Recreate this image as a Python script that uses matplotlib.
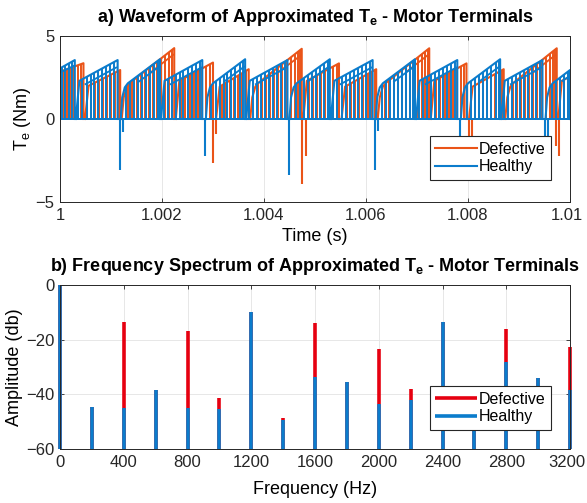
import numpy as np
import matplotlib
matplotlib.use('Agg')
import matplotlib.pyplot as plt
from matplotlib.path import Path
from matplotlib.patches import PathPatch
from matplotlib.transforms import ScaledTranslation

plt.rcParams['font.family'] = ['Liberation Sans', 'DejaVu Sans']
plt.rcParams['mathtext.default'] = 'regular'

nan = np.nan

# ---------------- (a) waveform data: time offsets in ms after t = 1 s ----------------
# upper envelope of each PWM segment (segments separated by nan)
healthy_env_ms = [0.00, 0.29, nan,
                  0.31, 0.38, 1.13, nan,
                  1.19, 1.22, 1.27, 1.33, 1.96, nan,
                  1.98, 2.05, 2.79, nan,
                  2.86, 2.89, 2.94, 3.00, 3.63, nan,
                  3.65, 3.72, 4.46, nan,
                  4.50, 4.53, 4.58, 4.64, 5.29, nan,
                  5.31, 5.38, 6.13, nan,
                  6.19, 6.22, 6.27, 6.33, 6.96, nan,
                  6.98, 7.05, 7.79, nan,
                  7.86, 7.89, 7.94, 8.00, 8.63, nan,
                  8.65, 8.72, 9.46, nan,
                  9.52, 9.55, 9.60, 9.66, 10.00]
healthy_env_val = [3.05, 3.55, nan,
                   0.0, 2.3, 3.55, nan,
                   0.0, 1.3, 1.9, 2.15, 3.6, nan,
                   0.0, 2.3, 3.55, nan,
                   0.0, 1.3, 1.9, 2.15, 3.6, nan,
                   0.0, 2.3, 3.55, nan,
                   0.0, 1.3, 1.9, 2.15, 3.6, nan,
                   0.0, 2.3, 3.55, nan,
                   0.0, 1.3, 1.9, 2.15, 3.6, nan,
                   0.0, 2.3, 3.55, nan,
                   0.0, 1.3, 1.9, 2.15, 3.6, nan,
                   0.0, 2.3, 3.55, nan,
                   0.0, 1.3, 1.9, 2.15, 2.95]
# second (lower) active-vector level visible in the later part of each segment
healthy_low_ms = [0.00, 0.27, nan, 0.50, 1.10, nan, 1.55, 1.94, nan, 2.17, 2.77, nan,
                  3.22, 3.61, nan, 3.84, 4.44, nan, 4.86, 5.27, nan, 5.50, 6.11, nan,
                  6.55, 6.94, nan, 7.17, 7.77, nan, 8.22, 8.61, nan, 8.84, 9.44, nan,
                  9.85, 10.00]
healthy_low_val = [2.8, 3.2, nan, 2.1, 3.1, nan, 2.26, 3.15, nan, 2.1, 3.1, nan,
                   2.26, 3.15, nan, 2.1, 3.1, nan, 2.26, 3.15, nan, 2.1, 3.1, nan,
                   2.26, 3.15, nan, 2.1, 3.1, nan, 2.26, 3.15, nan, 2.1, 3.1, nan,
                   2.3, 2.6]

defective_env_ms = [0.00, 0.46, nan,
                    0.49, 0.56, 1.18, nan,
                    1.21, 1.25, 1.31, 1.38, 2.24, nan,
                    2.27, 2.34, 3.00, nan,
                    3.06, 3.13, 3.70, nan,
                    3.73, 3.77, 3.83, 3.90, 4.74, nan,
                    4.77, 4.84, 5.47, nan,
                    5.52, 5.59, 6.20, nan,
                    6.23, 6.27, 6.33, 6.40, 7.24, nan,
                    7.27, 7.34, 7.97, nan,
                    8.02, 8.09, 8.70, nan,
                    8.73, 8.77, 8.83, 8.90, 9.74, nan,
                    9.77, 9.84, 10.00]
defective_env_val = [2.85, 3.36, nan,
                     0.0, 2.0, 2.95, nan,
                     0.0, 1.3, 1.95, 2.2, 4.27, nan,
                     0.0, 2.3, 3.4, nan,
                     0.0, 1.95, 3.0, nan,
                     0.0, 1.3, 1.95, 2.2, 4.23, nan,
                     0.0, 2.3, 3.35, nan,
                     0.0, 1.95, 3.0, nan,
                     0.0, 1.3, 1.95, 2.2, 4.26, nan,
                     0.0, 2.3, 3.35, nan,
                     0.0, 1.95, 3.0, nan,
                     0.0, 1.3, 1.95, 2.2, 4.26, nan,
                     0.0, 2.3, 2.55]
defective_low_ms = [1.80, 2.22, nan, 4.30, 4.72, nan, 6.80, 7.22, nan, 9.30, 9.72]
defective_low_val = [2.86, 3.87, nan, 2.86, 3.83, nan, 2.86, 3.87, nan, 2.86, 3.87]

# switching instants (ms) of the PWM pulses
healthy_pulse_ms = [0.03, 0.10, 0.17, 0.24, 0.36, 0.44, 0.52, 0.60, 0.67, 0.75, 0.83, 0.90, 0.98,
                    1.06, 1.30, 1.38, 1.46, 1.53, 1.61, 1.69, 1.77, 1.84, 1.92, 2.03, 2.11, 2.19,
                    2.27, 2.35, 2.42, 2.50, 2.58, 2.66, 2.74, 2.97, 3.05, 3.13, 3.21, 3.28, 3.36,
                    3.44, 3.52, 3.59, 3.70, 3.78, 3.86, 3.94, 4.02, 4.09, 4.17, 4.25, 4.33, 4.41,
                    4.62, 4.70, 4.78, 4.86, 4.94, 5.02, 5.10, 5.18, 5.25, 5.36, 5.44, 5.52, 5.60,
                    5.68, 5.76, 5.84, 5.92, 6.00, 6.08, 6.31, 6.39, 6.47, 6.55, 6.63, 6.71, 6.79,
                    6.87, 6.93, 7.03, 7.11, 7.19, 7.27, 7.35, 7.43, 7.51, 7.59, 7.67, 7.75, 7.98,
                    8.06, 8.14, 8.22, 8.30, 8.38, 8.46, 8.54, 8.61, 8.70, 8.78, 8.86, 8.94, 9.02,
                    9.10, 9.18, 9.26, 9.34, 9.42, 9.64, 9.72, 9.80, 9.88, 9.96]
defective_pulse_ms = [0.07, 0.14, 0.21, 0.28, 0.35, 0.42, 0.60, 0.68, 0.76, 0.84, 0.92, 1.00, 1.08,
                      1.15, 1.34, 1.42, 1.50, 1.58, 1.66, 1.74, 1.82, 1.90, 1.98, 2.06, 2.13, 2.20,
                      2.38, 2.46, 2.54, 2.62, 2.70, 2.78, 2.86, 2.94, 3.17, 3.25, 3.33, 3.41, 3.49,
                      3.57, 3.65, 3.88, 3.96, 4.04, 4.12, 4.20, 4.28, 4.36, 4.44, 4.52, 4.60, 4.66,
                      4.71, 4.88, 4.96, 5.04, 5.12, 5.20, 5.28, 5.36, 5.43, 5.63, 5.71, 5.79, 5.87,
                      5.95, 6.03, 6.11, 6.17, 6.38, 6.46, 6.54, 6.62, 6.70, 6.78, 6.86, 6.94, 7.02,
                      7.10, 7.16, 7.21, 7.38, 7.46, 7.54, 7.62, 7.70, 7.78, 7.86, 7.93, 8.13, 8.21,
                      8.29, 8.37, 8.45, 8.53, 8.61, 8.67, 8.88, 8.96, 9.04, 9.12, 9.20, 9.28, 9.36,
                      9.44, 9.52, 9.60, 9.66, 9.71, 9.88, 9.96]

# negative torque spikes at sector changes
healthy_dip_ms = [1.18, 1.24, 2.85, 4.49, 6.18, 6.24, 7.85, 9.50, 9.56]
healthy_dip_val = [-3.1, -0.77, -2.2, -3.4, -3.1, -0.75, -3.0, -3.0, -1.7]
defective_dip_ms = [3.00, 3.06, 4.74, 4.82, 8.02, 8.07, 9.72, 9.79]
defective_dip_val = [-2.66, -0.9, -3.9, -2.2, -2.8, -1.0, -1.6, -2.2]

time_ticks = [1.000, 1.002, 1.004, 1.006, 1.008, 1.010]
time_ticklabels = ['1', '1.002', '1.004', '1.006', '1.008', '1.01']

# ---------------- (b) spectrum data ----------------
freqs_hz = [0, 200, 400, 600, 800, 1000, 1200, 1400, 1600, 1800, 2000, 2200, 2400, 2600, 2800, 3000, 3200]
healthy_db = [0, -44.5, -45, -38.5, -45, -45.5, -10, -49.5, -33.5, -35.5, -43.5, -42, -13.5, -47, -28, -34, -38.5]
defective_db = [0, -44.5, -13.5, -38.5, -17, -41.5, -10, -48.5, -14, -35.5, -23.5, -38, -13.5, -47, -16, -34, -22.5]
freq_ticks = [0, 400, 800, 1200, 1600, 2000, 2400, 2800, 3200]
db_ticks = [-60, -40, -20, 0]

# ---------------- styling ----------------
C_HEALTHY = '#0b7ccc'
C_DEFECT = '#ea5418'
C_SPEC_RED = '#e60010'
C_SPEC_BLUE = '#0a7ccc'
SPINE = '#262626'
GRID = '#e3e3e3'

W, H = 587, 503
fig = plt.figure(figsize=(W / 100, H / 100), dpi=100)
ax1 = fig.add_axes([60 / W, 1 - 202 / H, 510 / W, 166 / H])
ax2 = fig.add_axes([60 / W, 1 - 449 / H, 510 / W, 164 / H])


def to_t(ms):
    return 1.0 + np.asarray(ms, dtype=float) * 1e-3


def draw_series(ax, env_ms, env_val, low_ms, low_val, pulse_ms, dip_ms, dip_val, color, label):
    t = to_t(env_ms)
    v = np.asarray(env_val, dtype=float)
    brk = np.where(np.isnan(t))[0]
    starts = np.r_[0, brk + 1]
    ends = np.r_[brk, len(t)]
    verts, codes = [], []
    lx, ly = [], []
    for s, e in zip(starts, ends):
        ts, vs = t[s:e], v[s:e]
        pts = [(ts[0], 0.0)] + list(zip(ts, vs)) + [(ts[-1], 0.0)]
        verts += pts + [(ts[0], 0.0)]
        codes += [Path.MOVETO] + [Path.LINETO] * (len(pts) - 1) + [Path.CLOSEPOLY]
        lx += list(ts) + [ts[-1], nan]
        ly += list(vs) + [0.0, nan]
    patch = PathPatch(Path(verts, codes), facecolor='none', edgecolor='none', transform=ax.transData)
    ax.add_patch(patch)
    lc = ax.vlines(to_t(pulse_ms), 0, 5, colors=color, linewidth=1.4)
    lc.set_clip_path(patch)
    ax.axhline(0, color=color, linewidth=1.4)
    ax.plot(to_t(low_ms), low_val, color=color, linewidth=1.3)
    line, = ax.plot(lx, ly, color=color, linewidth=1.5, label=label)
    ax.vlines(to_t(dip_ms), dip_val, 0, colors=color, linewidth=1.5)
    return line


l_def = draw_series(ax1, defective_env_ms, defective_env_val, defective_low_ms, defective_low_val,
                    defective_pulse_ms, defective_dip_ms, defective_dip_val, C_DEFECT, 'Defective')
l_hea = draw_series(ax1, healthy_env_ms, healthy_env_val, healthy_low_ms, healthy_low_val,
                    healthy_pulse_ms, healthy_dip_ms, healthy_dip_val, C_HEALTHY, 'Healthy')

ax1.set_xlim(1.0, 1.01)
ax1.set_ylim(-5, 5)
ax1.set_xticks(time_ticks)
ax1.set_xticklabels(time_ticklabels)
ax1.set_yticks([-5, 0, 5])
ax1.set_xlabel('Time (s)', fontsize=13, labelpad=4)
ax1.set_ylabel('T$_e$ (Nm)', fontsize=13, labelpad=2)
ax1.set_title('a) Waveform of Approximated T$_e$ - Motor Terminals', fontsize=13,
              fontweight='bold', pad=10)
leg1 = ax1.legend(handles=[l_def, l_hea], loc='lower right', fontsize=11.5, handlelength=2.6,
                  handletextpad=0.1, borderpad=0.35, labelspacing=0.15, fancybox=False,
                  framealpha=1, edgecolor=SPINE, bbox_to_anchor=(0.978, 0.084))
leg1.get_frame().set_linewidth(0.8)

# spectrum
ax2.vlines(freqs_hz, -60, defective_db, colors=C_SPEC_RED, linewidth=2.6, label='Defective',
           clip_on=False)
ax2.vlines(freqs_hz, -60, healthy_db, colors=C_SPEC_BLUE, linewidth=2.6, label='Healthy',
           clip_on=False)
ax2.set_xlim(0, 3200)
ax2.set_ylim(-60, 0)
ax2.set_xticks(freq_ticks)
ax2.set_yticks(db_ticks)
ax2.set_xlabel('Frequency (Hz)', fontsize=13, labelpad=8)
ax2.set_ylabel('Amplitude (db)', fontsize=13, labelpad=2)
ax2.set_title('b) Frequency Spectrum of Approximated T$_e$ - Motor Terminals', fontsize=13,
              fontweight='bold', pad=10)
leg2 = ax2.legend(loc='lower right', fontsize=11.5, handlelength=2.6, handletextpad=0.1,
                  borderpad=0.35, labelspacing=0.15, fancybox=False, framealpha=1,
                  edgecolor=SPINE, bbox_to_anchor=(0.978, 0.067))
leg2.get_frame().set_linewidth(0.8)

for ax in (ax1, ax2):
    ax.grid(True, color=GRID, linewidth=0.6)
    ax.set_axisbelow(True)
    for sp in ax.spines.values():
        sp.set_color(SPINE)
        sp.set_linewidth(0.7)
    ax.tick_params(direction='in', top=True, right=True, length=3, width=0.6,
                   labelsize=12, colors=SPINE, pad=4)

# keep the right-most tick labels inside the figure edge
shift = ScaledTranslation(-3 / 100, 0, fig.dpi_scale_trans)
for ax in (ax1, ax2):
    lbl = ax.get_xticklabels()[-1]
    lbl.set_transform(lbl.get_transform() + shift)

fig.savefig('out.png', dpi=100)
